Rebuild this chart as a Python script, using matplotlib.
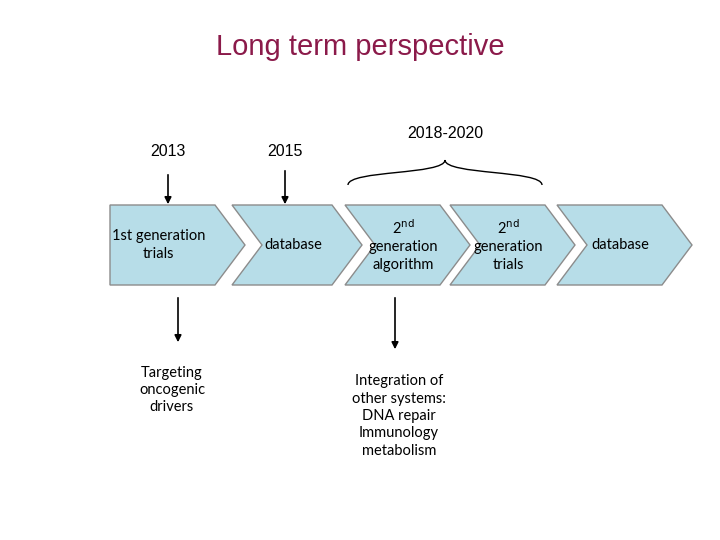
import matplotlib.pyplot as plt
from matplotlib.patches import Polygon
from matplotlib.path import Path
from matplotlib.patches import PathPatch

TITLE = "Long term perspective"
STEP_LABELS = ["1st generation\ntrials", "database", "2$^{\\mathrm{nd}}$\ngeneration\nalgorithm",
               "2$^{\\mathrm{nd}}$\ngeneration\ntrials", "database"]
STEP_LEFT = [110, 232, 345, 450, 557]
STEP_RIGHT = [245, 362, 470, 575, 692]
YEARS = ["2013", "2015", "2018-2020"]
NOTES = ["Targeting\noncogenic\ndrivers", "Integration of\nother systems:\nDNA repair\nImmunology\nmetabolism"]

fig = plt.figure(figsize=(7.2, 5.4), dpi=100)
ax = fig.add_axes([0, 0, 1, 1])
ax.set_xlim(0, 720)
ax.set_ylim(540, 0)
ax.axis("off")

ax.text(360, 47, TITLE, ha="center", va="center", fontsize=21, color="#8b1a4a",
        family="Liberation Sans")

top, bot, mid = 205, 285, 245
tip = 30
for i, (l, r) in enumerate(zip(STEP_LEFT, STEP_RIGHT)):
    if i == 0:
        pts = [(l, top), (r - tip, top), (r, mid), (r - tip, bot), (l, bot)]
    else:
        pts = [(l, top), (r - tip, top), (r, mid), (r - tip, bot), (l, bot), (l + tip, mid)]
    ax.add_patch(Polygon(pts, closed=True, fc="#b7dde8", ec="#8c8c8c", lw=1))
    cx = (l + r - tip) / 2 + (0 if i == 0 else tip / 2) - 4
    ax.text(cx, mid, STEP_LABELS[i], ha="center", va="center", fontsize=10.5,
            family="Lato", linespacing=1.3)

# year labels + arrows
ax.text(168, 152, YEARS[0], ha="center", va="center", fontsize=11.5, family="Liberation Sans")
ax.annotate("", xy=(168, 207), xytext=(168, 172),
            arrowprops=dict(arrowstyle="-|>", color="black", lw=1.2))
ax.text(285, 152, YEARS[1], ha="center", va="center", fontsize=11.5, family="Liberation Sans")
ax.annotate("", xy=(285, 207), xytext=(285, 168),
            arrowprops=dict(arrowstyle="-|>", color="black", lw=1.2))
ax.text(445, 133, YEARS[2], ha="center", va="center", fontsize=11.5, family="Liberation Sans")

# brace
x0, x1, xm = 348, 542, 445
yb, yt = 185, 160
path = Path([(x0, yb), (x0, 170), (xm, 175), (xm, yt), (xm, 175), (x1, 170), (x1, yb)],
            [Path.MOVETO, Path.CURVE4, Path.CURVE4, Path.CURVE4, Path.CURVE4, Path.CURVE4, Path.CURVE4])
ax.add_patch(PathPatch(path, fc="none", ec="black", lw=1))

# bottom arrows + notes
ax.annotate("", xy=(178, 345), xytext=(178, 295),
            arrowprops=dict(arrowstyle="-|>", color="black", lw=1.2))
ax.text(172, 390, NOTES[0], ha="center", va="center", fontsize=10.5, family="Lato",
        linespacing=1.3)
ax.annotate("", xy=(395, 352), xytext=(395, 295),
            arrowprops=dict(arrowstyle="-|>", color="black", lw=1.2))
ax.text(399, 416, NOTES[1], ha="center", va="center", fontsize=10.5, family="Lato",
        linespacing=1.3)

fig.savefig("out.png", dpi=100)
